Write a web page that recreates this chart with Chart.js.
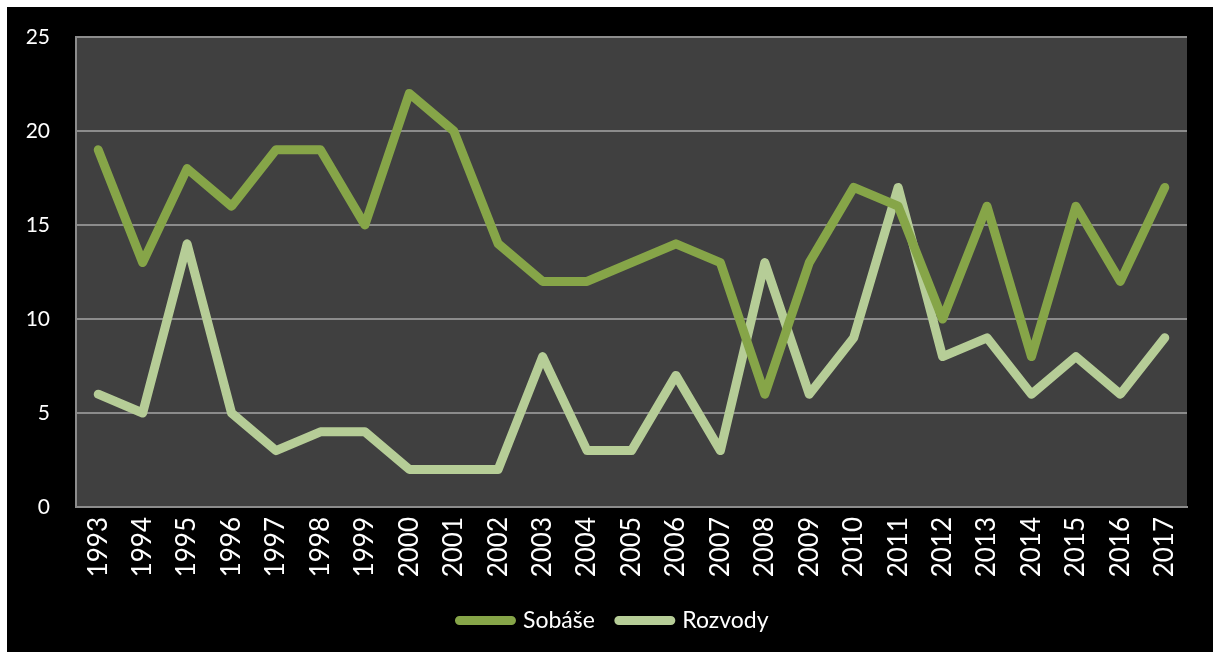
<!DOCTYPE html>
<html>
<head>
<meta charset="utf-8">
<script src="https://cdn.jsdelivr.net/npm/chart.js@4.4.0/dist/chart.umd.min.js"></script>
<style>
    html, body { margin: 0; padding: 0; background: #fff; overflow: hidden; }
    #wrap { position: absolute; left: 7px; top: 7px; width: 1214px; height: 645px; background: #000; }
</style>
</head>
<body>
<div id="wrap"><canvas id="lineChart" width="1214" height="645"></canvas></div>
<script>
const years = ['1993', '1994', '1995', '1996', '1997', '1998', '1999', '2000', '2001', '2002',
    '2003', '2004', '2005', '2006', '2007', '2008', '2009', '2010', '2011', '2012',
    '2013', '2014', '2015', '2016', '2017'];
const sobase = [19, 13, 18, 16, 19, 19, 15, 22, 20, 14, 12, 12, 13, 14, 13, 6, 13, 17, 16, 10, 16, 8, 16, 12, 17];
const rozvody = [6, 5, 14, 5, 3, 4, 4, 2, 2, 2, 8, 3, 3, 7, 3, 13, 6, 9, 17, 8, 9, 6, 8, 6, 9];
const yTicks = [0, 5, 10, 15, 20, 25];

// dark plot area behind the lines
const plotBackground = {
    id: 'plotBackground',
    beforeDraw(chart) {
        const { ctx, chartArea } = chart;
        ctx.save();
        ctx.fillStyle = '#404040';
        ctx.fillRect(chartArea.left, chartArea.top, chartArea.right - chartArea.left, chartArea.bottom - chartArea.top);
        ctx.restore();
    }
};

const ctx = document.getElementById('lineChart').getContext('2d');
new Chart(ctx, {
    type: 'line',
    data: {
        labels: years,
        datasets: [{
            label: 'Sobáše',
            data: sobase,
            borderColor: '#86A548',
            backgroundColor: '#86A548',
            borderWidth: 9,
            borderCapStyle: 'round',
            borderJoinStyle: 'round',
            pointRadius: 0,
            tension: 0
        }, {
            label: 'Rozvody',
            data: rozvody,
            borderColor: '#B6CD97',
            backgroundColor: '#B6CD97',
            borderWidth: 9,
            borderCapStyle: 'round',
            borderJoinStyle: 'round',
            pointRadius: 0,
            tension: 0
        }]
    },
    options: {
        responsive: false,
        animation: false,
        layout: {
            padding: { top: 30, right: 0, left: 0, bottom: 10 }
        },
        scales: {
            x: {
                offset: true,
                grid: { display: false, drawTicks: false },
                border: { color: '#8c8c8c', width: 2 },
                ticks: {
                    color: '#fff',
                    font: { family: 'Lato', size: 26 },
                    minRotation: 90,
                    maxRotation: 90,
                    padding: 10,
                    autoSkip: false
                },
                afterFit(scale) { scale.height = 78; }
            },
            y: {
                min: 0,
                max: 25,
                afterBuildTicks(scale) {
                    scale.ticks = yTicks.map(v => ({ value: v }));
                },
                grid: { color: '#8c8c8c', lineWidth: 2, tickLength: 22, tickColor: 'rgba(0,0,0,0)' },
                border: { color: '#8c8c8c', width: 2 },
                ticks: {
                    color: '#fff',
                    font: { family: 'Lato', size: 21 },
                    padding: 4
                },
                afterFit(scale) { scale.width = 69; }
            },
            // empty right margin, keeps the legend centred like the original
            yRight: {
                position: 'right',
                min: 0,
                max: 25,
                grid: { display: false, drawTicks: false },
                border: { display: false },
                ticks: { display: false },
                afterFit(scale) { scale.width = 34; }
            }
        },
        plugins: {
            legend: {
                position: 'bottom',
                labels: {
                    color: '#fff',
                    font: { family: 'Lato', size: 23 },
                    boxWidth: 52,
                    boxHeight: 0,
                    padding: 24
                }
            },
            tooltip: { enabled: false }
        }
    },
    plugins: [plotBackground]
});
</script>
</body>
</html>
